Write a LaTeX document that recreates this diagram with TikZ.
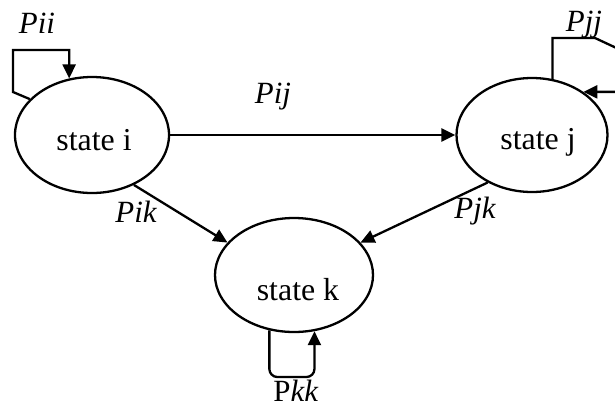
\documentclass[tikz,border=0pt]{standalone}
\usepackage{fontspec}
\setmainfont{Liberation Serif}
\usetikzlibrary{arrows.meta,shapes.geometric}
\begin{document}
\begin{tikzpicture}[x=1bp,y=-1bp,
  state/.style={draw, ellipse, line width=2.3bp, inner sep=0pt},
  arr/.style={line width=2.3bp, -{Triangle[length=14bp,width=13bp]}},
  lbl/.style={font=\fontsize{31}{35}\selectfont\itshape, inner sep=0pt},
  txt/.style={font=\fontsize{32}{36}\selectfont, inner sep=0pt}]
\useasboundingbox (0,0) rectangle (615,415);

% the three states
\node[state, minimum width=154bp, minimum height=116bp] (si) at (92,135) {};
\node[state, minimum width=151bp, minimum height=114bp] (sj) at (532,135) {};
\node[state, minimum width=158bp, minimum height=114bp] (sk) at (294,275) {};
\node[txt] (ti) at (94,140) {state i};
\node[txt] (tj) at (538,142) {state j};
\node[txt] (tk) at (298,290) {state k};

% transitions between states
\draw[arr] (si) -- (sj);
\draw[arr] (si.-50) -- (sk.154);
\draw[arr] (sj.-133) -- (sk.26);

% self loops
\draw[arr] (si.150) -- (13,92) -- (13,50) -| (si.112);
\draw[arr] (sj.70) |- (595,38) -- (625,52) |- (sj.40);
\draw[arr, rounded corners=8bp] (sk.-114) |- (292,377) -| (sk.-70);

% transition probabilities
\node[lbl] (pii) at (37,23) {Pii};
\node[lbl] (pij) at (273,97) {Pij};
\node[lbl] (pjj) at (584,25) {Pjj};
\node[lbl] (pik) at (136,212) {Pik};
\node[lbl] (pjk) at (475,211) {Pjk};
\node[txt, font=\fontsize{31}{35}\selectfont] (pkk) at (296,391) {P\textit{kk}};
\end{tikzpicture}
\end{document}
